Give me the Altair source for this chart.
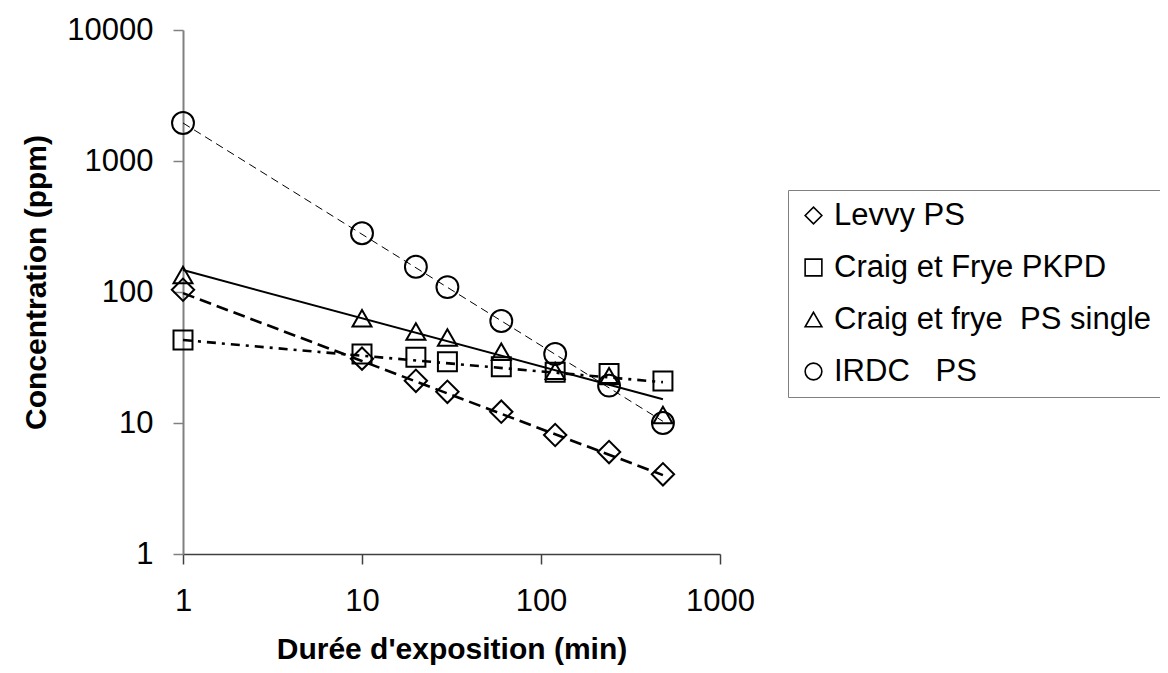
import altair as alt
import pandas as pd

# ---- data ----
time_min = [1, 10, 20, 30, 60, 120, 240, 480]
series_names = ["Levvy PS", "Craig et Frye PKPD", "Craig et frye\u00a0 PS single", "IRDC\u00a0\u00a0 PS"]
levvy = [104, 31, 21, 17.3, 12.2, 8.1, 6.0, 4.06]
craig_pkpd = [43, 33.6, 31.7, 29.4, 26.9, 24.4, 23.9, 20.9]
craig_single = [135, 63, 50, 45, 35, 25, 22.8, 11.5]
irdc = [1950, 281, 156, 109, 60, 33.6, 19.3, 10]

# trend lines (straight in log-log), end values
fit_time = [1, 480]
levvy_fit = [98, 4.0]
pkpd_fit = [43, 20.5]
single_fit = [147, 15.2]
irdc_fit = [1950, 10.3]

x_ticks = [1, 10, 100, 1000]
y_ticks = [1, 10, 100, 1000, 10000]

shapes = ["diamond", "square", "triangle-up", "circle"]
marker_sizes = [500, 360, 360, 480]

FONT = "Liberation Sans"

x_scale = alt.Scale(type="log", domain=[1, 1000], nice=False)
y_scale = alt.Scale(type="log", domain=[1, 10000], nice=False)
shape_scale = alt.Scale(domain=series_names, range=shapes)

x_axis = alt.Axis(
    values=x_ticks, format="d", title="Durée d'exposition (min)", grid=False,
    tickSize=10, labelPadding=22, labelFontSize=31, labelColor="black",
    titleFontSize=30, titleFontWeight="bold", titleColor="black",
    domainColor="#404040", tickColor="#404040", domainWidth=1.5, tickWidth=1.5,
    titleY=95, titleBaseline="middle", labelFlush=False, labelOverlap=False,
)
y_axis = alt.Axis(
    values=y_ticks, format="d", title="Concentration (ppm)", grid=False,
    tickSize=10, labelPadding=20, labelFontSize=31, labelColor="black",
    titleFontSize=30, titleFontWeight="bold", titleColor="black",
    domainColor="#808080", tickColor="#808080", domainWidth=2, tickWidth=1.5,
    titleX=-147, titleY=252, titleBaseline="middle", titleAlign="center",
    labelFlush=False, labelOverlap=False,
)

legend = alt.Legend(
    title=None, orient="none", legendX=605, legendY=160,
    strokeColor="#808080", fillColor="white", padding=10,
    labelFontSize=31, labelFont=FONT, labelColor="black", labelLimit=700,
    symbolSize=280, symbolStrokeWidth=1.6, symbolStrokeColor="black",
    symbolFillColor="white", rowPadding=20, labelOffset=5,
)

line_specs = [
    {"strokeWidth": 2.6, "strokeDash": [12, 6]},
    {"strokeWidth": 2.6, "strokeDash": [9, 6, 3, 6]},
    {"strokeWidth": 2},
    {"strokeWidth": 1, "strokeDash": [8, 5]},
]

series_vals = [levvy, craig_pkpd, craig_single, irdc]
fits = [levvy_fit, pkpd_fit, single_fit, irdc_fit]

layers = []
for name, fit, style in zip(series_names, fits, line_specs):
    df = pd.DataFrame({"t": fit_time, "c": fit, "series": name})
    layers.append(
        alt.Chart(df).mark_line(color="black", **style).encode(
            x=alt.X("t:Q", scale=x_scale, axis=x_axis),
            y=alt.Y("c:Q", scale=y_scale, axis=y_axis),
        )
    )

for i, (name, vals, sz) in enumerate(zip(series_names, series_vals, marker_sizes)):
    df = pd.DataFrame({"t": time_min, "c": vals, "series": name})
    enc = dict(
        x=alt.X("t:Q", scale=x_scale, axis=x_axis),
        y=alt.Y("c:Q", scale=y_scale, axis=y_axis),
        shape=alt.Shape("series:N", scale=shape_scale, legend=legend if i == 0 else None),
    )
    layers.append(
        alt.Chart(df).mark_point(filled=False, color="black", strokeWidth=2, opacity=1, size=sz).encode(**enc)
    )

chart = alt.layer(*layers).resolve_legend(shape="shared").properties(
    width=537, height=524,
    padding={"left": 175, "top": 22, "right": 440, "bottom": 111},
    autosize=alt.AutoSizeParams(type="none"),
).configure(font=FONT).configure_view(stroke=None)

chart.save("out.html", embed_options={"renderer": "svg", "actions": False})
